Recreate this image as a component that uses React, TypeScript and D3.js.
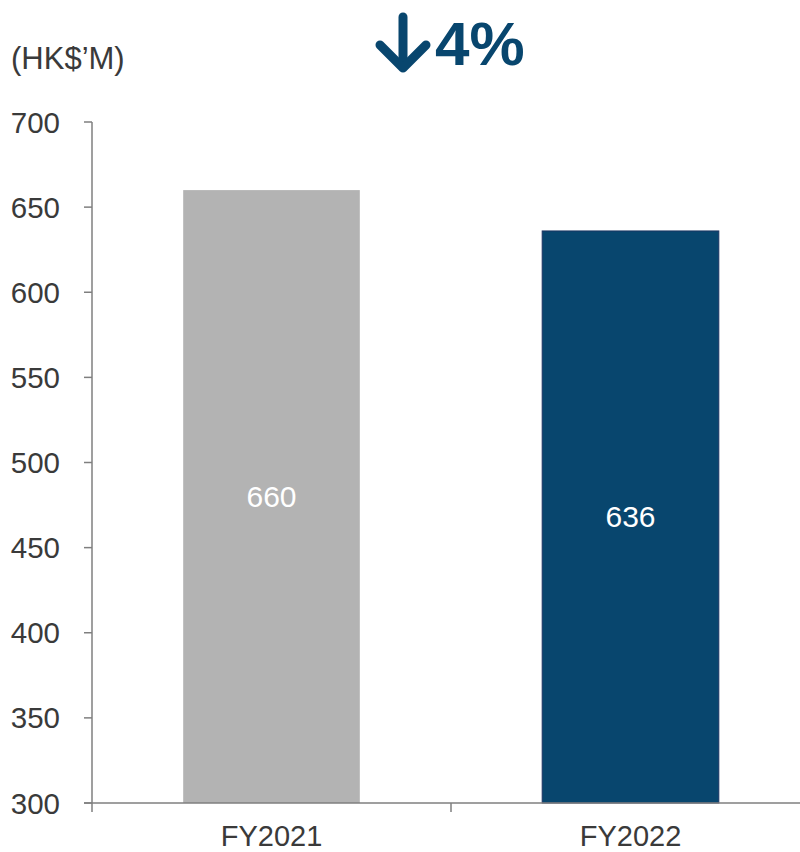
import React from "react";
import * as d3 from "d3";

const categories = ["FY2021", "FY2022"];
const values = [660, 636];
const barColors = ["#b3b3b3", "#08466e"];
const barStrokes = ["none", "#1c3462"];
const yTicks = [300, 350, 400, 450, 500, 550, 600, 650, 700];
const unitLabel = "(HK$’M)";
const changeLabel = "4%";

const W = 800;
const H = 852;
const font = "Arial, 'Liberation Sans', Helvetica, sans-serif";

export default function App() {
  const x0 = 92;
  const x1 = 810;
  const yTop = 122;
  const yBot = 803;
  const y = d3.scaleLinear().domain([300, 700]).range([yBot, yTop]);
  const x = d3.scaleBand().domain(categories).range([x0, x1]).paddingInner(0.508).paddingOuter(0.254);
  const band = d3.scaleBand().domain(categories).range([x0, x1]);
  const axisColor = "#7f7f7f";
  const textColor = "#3a3a3a";
  const navy = "#08466e";

  return (
    <svg width={W} height={H} style={{ position: "absolute", left: 0, top: 0, display: "block" }}>
      <rect width={W} height={H} fill="#fff" />
      <text x={11} y={69} fontFamily={font} fontSize={31} fill={textColor}>{unitLabel}</text>
      {/* change indicator */}
      <g stroke={navy} strokeWidth={9} fill="none" strokeLinecap="round" strokeLinejoin="round">
        <line x1={403} y1={17} x2={403} y2={67} />
        <polyline points="380,45 403,68 426,45" />
      </g>
      <text x={435} y={65} fontFamily={font} fontSize={62} fontWeight="bold" fill={navy}>{changeLabel}</text>

      {/* bars */}
      {categories.map((c, i) => (
        <g key={c}>
          <rect
            x={x(c)}
            y={y(values[i])}
            width={x.bandwidth()}
            height={yBot - y(values[i])}
            fill={barColors[i]}
            stroke={barStrokes[i]}
            strokeWidth={1}
          />
          <text
            x={(x(c) as number) + x.bandwidth() / 2}
            y={(y(values[i]) + yBot) / 2}
            dy="0.35em"
            textAnchor="middle"
            fontFamily={font}
            fontSize={30}
            fill="#ffffff"
          >
            {values[i]}
          </text>
        </g>
      ))}

      {/* y axis */}
      <line x1={x0} y1={yTop} x2={x0} y2={yBot} stroke={axisColor} strokeWidth={1.5} />
      {yTicks.map((t) => (
        <g key={t}>
          <line x1={x0 - 8} x2={x0} y1={y(t)} y2={y(t)} stroke={axisColor} strokeWidth={1.5} />
          <text x={60} y={y(t)} dy="0.36em" textAnchor="end" fontFamily={font} fontSize={29.5} fill={textColor}>
            {t}
          </text>
        </g>
      ))}

      {/* x axis */}
      <line x1={x0 - 8} x2={W} y1={yBot} y2={yBot} stroke={axisColor} strokeWidth={1.5} />
      {[...categories.map((c) => band(c) as number), x1].map((px, i) => (
        <line key={i} x1={px} x2={px} y1={yBot} y2={yBot + 9} stroke={axisColor} strokeWidth={1.5} />
      ))}
      {categories.map((c) => (
        <text
          key={c}
          x={(band(c) as number) + band.bandwidth() / 2}
          y={846}
          textAnchor="middle"
          fontFamily={font}
          fontSize={29}
          fill={textColor}
        >
          {c}
        </text>
      ))}
    </svg>
  );
}
